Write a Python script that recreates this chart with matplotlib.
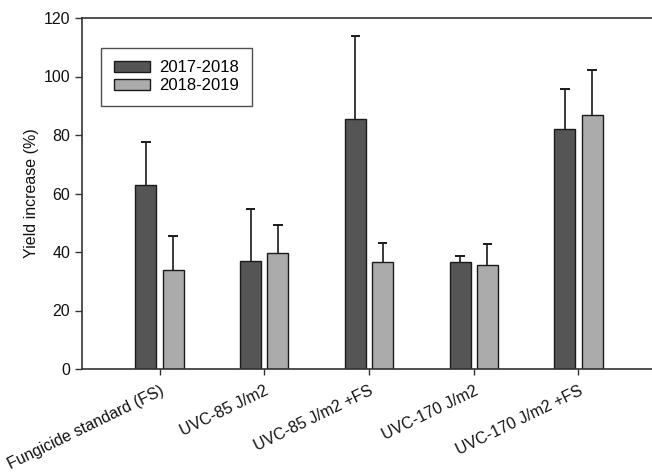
import matplotlib
matplotlib.use("Agg")
import matplotlib.pyplot as plt
import numpy as np

plt.rcParams['font.family'] = ['Liberation Sans', 'DejaVu Sans']

categories = ["Fungicide standard (FS)", "UVC-85 J/m2", "UVC-85 J/m2 +FS",
              "UVC-170 J/m2", "UVC-170 J/m2 +FS"]
season_labels = ["2017-2018", "2018-2019"]
yield_2017 = [62.8, 37.0, 85.3, 36.6, 82.2]
err_2017 = [14.7, 17.8, 28.5, 2.1, 13.4]
yield_2018 = [33.8, 39.6, 36.6, 35.4, 86.7]
err_2018 = [11.5, 9.8, 6.4, 7.3, 15.6]
y_ticks = [0, 20, 40, 60, 80, 100, 120]

fig = plt.figure(figsize=(6.52, 4.72), dpi=100)
ax = fig.add_axes([82 / 652, 103 / 472, 574 / 652, 351 / 472])

x = np.arange(len(categories))
w = 0.2
off = 0.13
cap = 0.045
edge = "#1a1a1a"


def bars_with_upper_error(xpos, vals, errs, color, label):
    ax.bar(xpos, vals, w, color=color, edgecolor=edge, linewidth=1.0,
           label=label, zorder=2)
    tops = np.asarray(vals) + np.asarray(errs)
    ax.vlines(xpos, vals, tops, color=edge, linewidth=1.2, zorder=1)
    ax.hlines(tops, xpos - cap, xpos + cap, color=edge, linewidth=1.4, zorder=1)


bars_with_upper_error(x - off, yield_2017, err_2017, "#555555", season_labels[0])
bars_with_upper_error(x + off, yield_2018, err_2018, "#ababab", season_labels[1])

ax.set_xlim(-0.74, 4.74)
ax.set_ylim(0, 120)
ax.set_yticks(y_ticks)
ax.set_xticks(x)
ax.set_xticklabels(categories, rotation=26, ha="right", va="top",
                   rotation_mode="anchor", fontsize=11.5)
ax.tick_params(axis="x", pad=6)
ax.tick_params(axis="both", direction="out", length=4, width=1, colors="#333333",
               labelcolor="#111111")
ax.tick_params(axis="y", labelsize=11.5, length=5)
ax.set_ylabel("Yield increase (%)", fontsize=11.5, color="#111111", labelpad=3)

for s in ["left", "bottom", "top"]:
    ax.spines[s].set_linewidth(1.2)
    ax.spines[s].set_color("#333333")
ax.spines["right"].set_visible(False)

leg = ax.legend(loc="upper left", bbox_to_anchor=(19 / 574, 1 - 30 / 351),
                fontsize=12, frameon=True, fancybox=False, edgecolor="#222222",
                handlelength=2.2, handleheight=0.62, borderpad=0.75,
                labelspacing=0.16, handletextpad=0.55, borderaxespad=0)
leg.get_frame().set_linewidth(1.0)

fig.savefig("out.png", dpi=100)
